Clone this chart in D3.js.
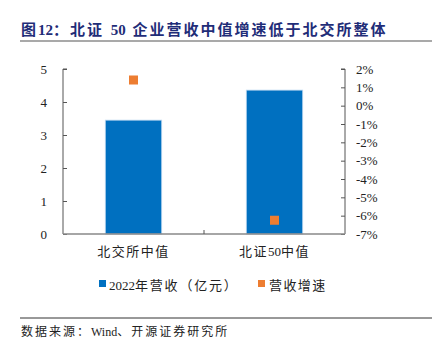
<!DOCTYPE html>
<html>
<head>
<meta charset="utf-8">
<script src="https://cdn.jsdelivr.net/npm/d3@7"></script>
<style>
  body { margin: 0; background: #fff; }
  svg text { font-family: "Liberation Serif", "Noto Sans CJK SC", serif; }
</style>
</head>
<body>
<div id="chart"></div>
<script>
var categories = ["北交所中值", "北证50中值"]
var revenue = [3.45, 4.36]      // 2022年营收（亿元）
var growth = [1.4, -6.25]       // 营收增速 %
var leftTicks = [0, 1, 2, 3, 4, 5]
var rightTicks = [2, 1, 0, -1, -2, -3, -4, -5, -6, -7]

var W = 443, H = 354
var margin = {top: 69, right: 98, bottom: 120, left: 63}
var width = W - margin.left - margin.right
var height = H - margin.top - margin.bottom

var svg = d3.select("#chart").append("svg")
  .attr("width", W).attr("height", H)

// writes text as tspans: CJK runs get letter spacing, latin/digit runs don't,
// spaces get a bit extra so they read like the original's wide gaps
function spaced(sel, str, sp) {
  var parts = str.match(/[A-Za-z0-9]+| +|[^A-Za-z0-9 ]+/g)
  parts.forEach(function(p) {
    var ls = / /.test(p) ? "3px" : (/[A-Za-z0-9]/.test(p) ? "0px" : sp)
    sel.append("tspan")
      .style("letter-spacing", ls)
      .text(p.replace(/ /g, "\u00a0"))
  })
  return sel
}

// title
var title = svg.append("text")
  .attr("x", 21).attr("y", 35)
  .style("font-size", "15px").style("font-weight", "bold")
  .style("fill", "#1f2d78")
spaced(title, "图12：北证 50 企业营收中值增速低于北交所整体", "2px")
svg.append("line")
  .attr("x1", 20).attr("x2", 432).attr("y1", 41).attr("y2", 41)
  .attr("stroke", "#8c8c8c").attr("stroke-width", 1.5)

var g = svg.append("g")
  .attr("transform", "translate(" + margin.left + "," + margin.top + ")")

var x = d3.scaleBand().domain(categories).range([0, width]).paddingInner(0).paddingOuter(0)
var yL = d3.scaleLinear().domain([0, 5]).range([height, 0])
var yR = d3.scaleLinear().domain([-7, 2]).range([height, 0])

var barW = x.bandwidth() * 0.4

// bars
g.selectAll(".bar").data(categories).enter().append("rect")
  .attr("x", function(d) { return x(d) + (x.bandwidth() - barW) / 2 })
  .attr("y", function(d, i) { return yL(revenue[i]) })
  .attr("width", barW)
  .attr("height", function(d, i) { return height - yL(revenue[i]) })
  .attr("fill", "#0070c0")
  .attr("stroke", "#bcd7ef").attr("stroke-width", 0.8)

// left axis
var axL = g.append("g")
  .call(d3.axisRight(yL).tickValues(leftTicks).tickSize(4).tickFormat(d3.format("d")))
axL.select(".domain").attr("stroke", "#555").attr("d", "M4,0H0V" + height)
axL.selectAll(".tick line").attr("stroke", "#555")
axL.selectAll(".tick text").attr("x", -16).attr("text-anchor", "end")
  .style("font-size", "13px").style("fill", "#222")

// right axis
var axR = g.append("g").attr("transform", "translate(" + width + ",0)")
  .call(d3.axisLeft(yR).tickValues(rightTicks).tickSize(4).tickFormat(function(d) { return d + "%" }))
axR.select(".domain").attr("stroke", "#555").attr("d", "M-4,0H0V" + height)
axR.selectAll(".tick line").attr("stroke", "#555")
axR.selectAll(".tick text").attr("x", 11).attr("text-anchor", "start")
  .style("font-size", "13px").style("fill", "#222")

// bottom axis
g.append("line")
  .attr("x1", 0).attr("x2", width).attr("y1", height).attr("y2", height)
  .attr("stroke", "#888").attr("stroke-width", 1.5)
g.append("line")
  .attr("x1", x(categories[1])).attr("x2", x(categories[1]))
  .attr("y1", height).attr("y2", height - 4)
  .attr("stroke", "#555")

g.selectAll(".xlab").data(categories).enter().append("text")
  .attr("x", function(d) { return x(d) + x.bandwidth() / 2 })
  .attr("y", height + 22)
  .attr("text-anchor", "middle")
  .style("font-size", "13px").style("fill", "#222")
  .each(function(d) { spaced(d3.select(this), d, "1.5px") })

// growth markers
var sq = 9
g.selectAll(".pt").data(categories).enter().append("rect")
  .attr("x", function(d) { return x(d) + x.bandwidth() / 2 - sq / 2 })
  .attr("y", function(d, i) { return yR(growth[i]) - sq / 2 })
  .attr("width", sq).attr("height", sq)
  .attr("fill", "#ed7d31")

// legend
var leg = svg.append("g").attr("transform", "translate(0,285)")
leg.append("rect").attr("x", 99).attr("y", -5).attr("width", 7).attr("height", 7).attr("fill", "#0070c0")
spaced(leg.append("text").attr("x", 109).attr("y", 4.5).style("font-size", "13px").style("fill", "#222"),
  "2022年营收（亿元）", "1.8px")
leg.append("rect").attr("x", 258).attr("y", -5).attr("width", 7).attr("height", 7).attr("fill", "#ed7d31")
spaced(leg.append("text").attr("x", 269).attr("y", 4.5).style("font-size", "13px").style("fill", "#222"),
  "营收增速", "1.4px")

// source
svg.append("line")
  .attr("x1", 20).attr("x2", 432).attr("y1", 318).attr("y2", 318)
  .attr("stroke", "#333").attr("stroke-width", 1)
spaced(svg.append("text").attr("x", 21).attr("y", 336)
  .style("font-size", "12px").style("fill", "#222"),
  "数据来源：Wind、开源证券研究所", "2px")
</script>
</body>
</html>
